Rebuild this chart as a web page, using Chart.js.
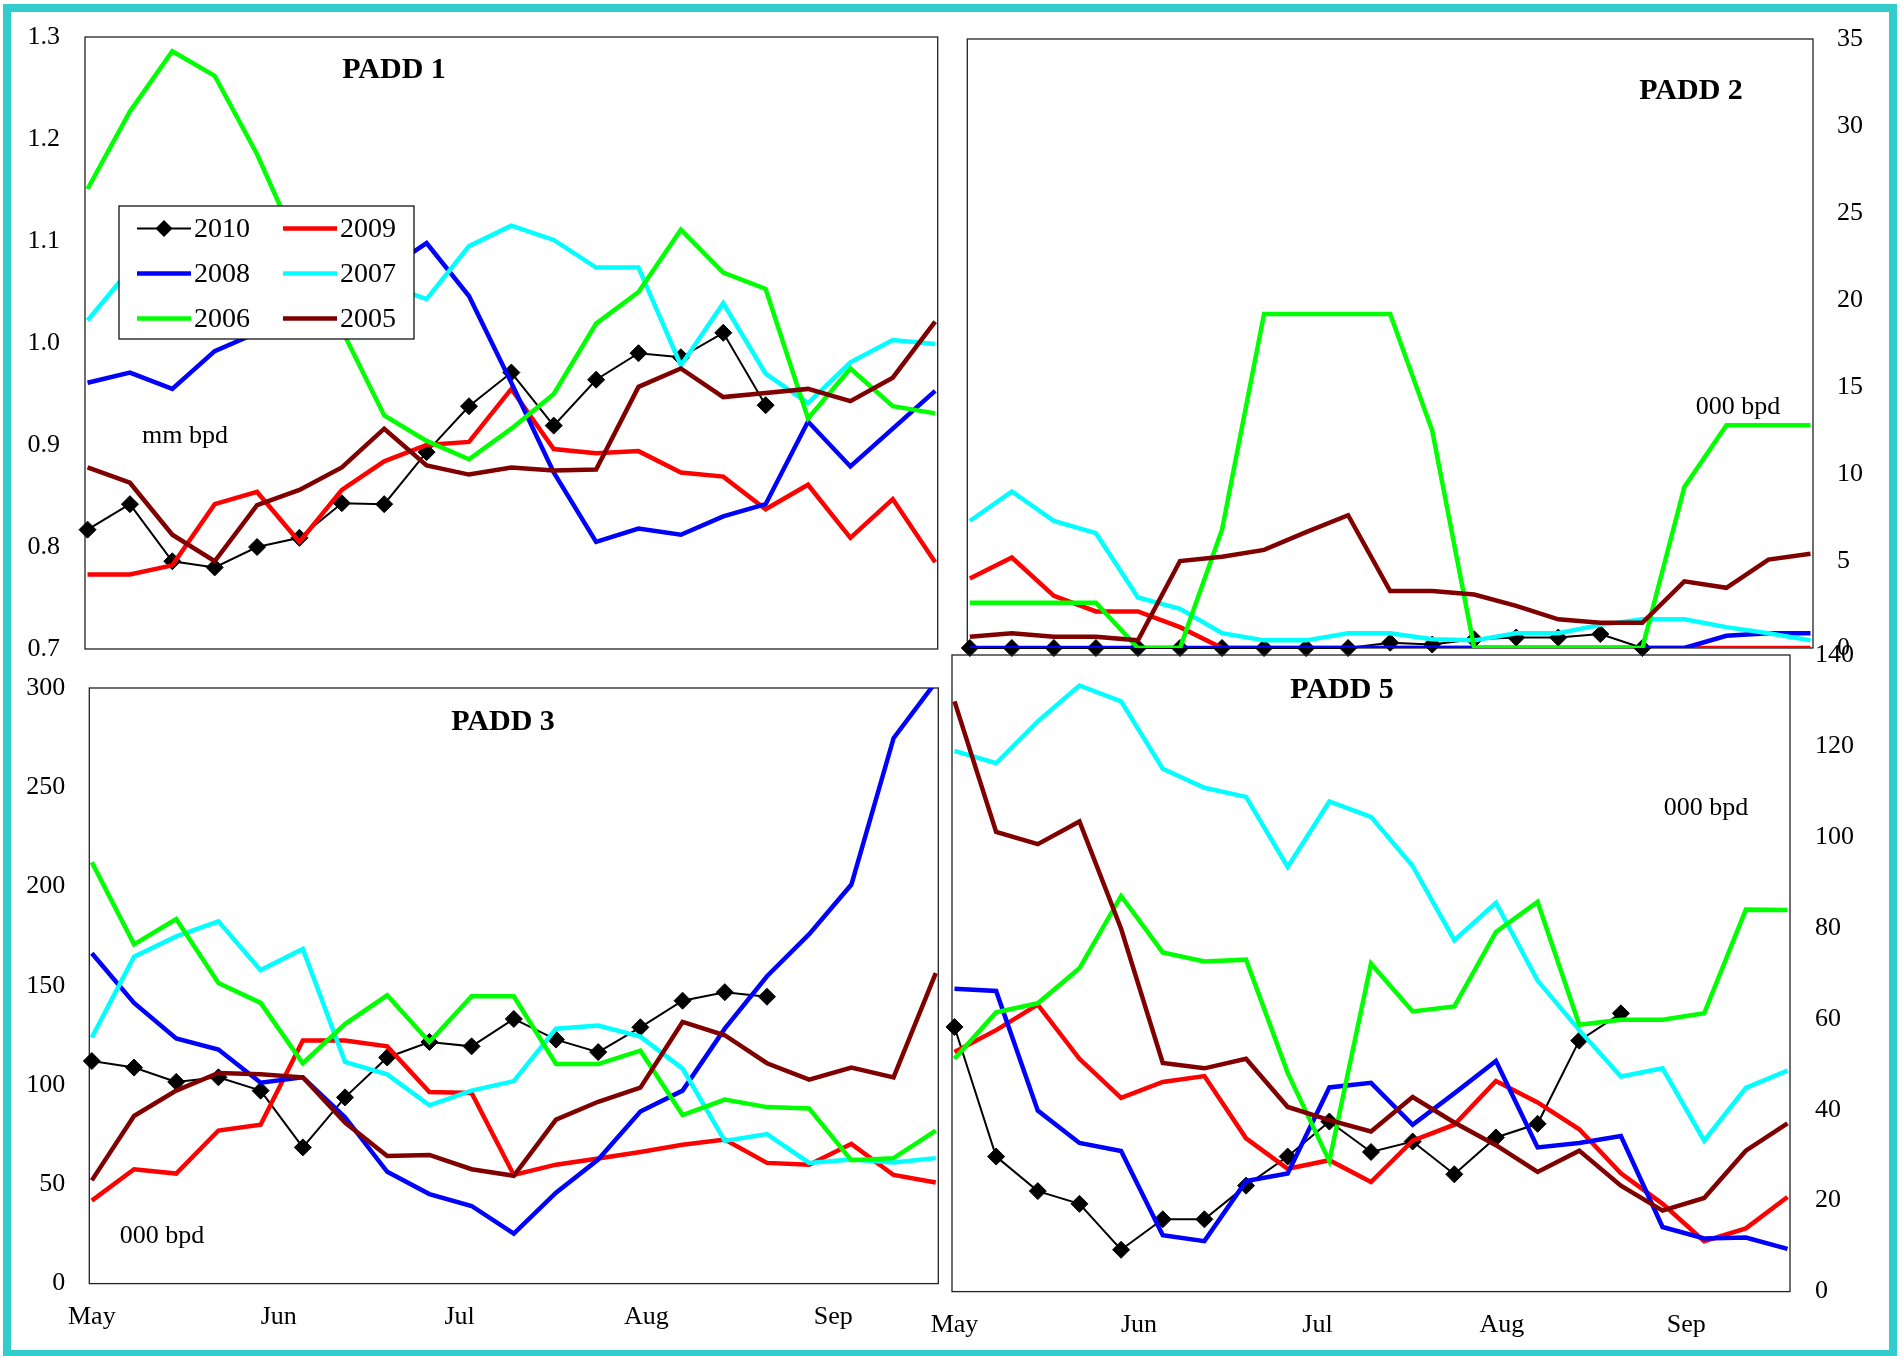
<!DOCTYPE html>
<html><head><meta charset="utf-8">
<script src="https://cdn.jsdelivr.net/npm/chart.js@4.4.1/dist/chart.umd.min.js"></script>
<style>
html,body{margin:0;padding:0;background:#fff;}
body{width:1902px;height:1356px;position:relative;overflow:hidden;}
#frame{position:absolute;left:3px;top:4px;width:1878px;height:1338px;border:8px solid #33CCCC;z-index:10;pointer-events:none;}
canvas{position:absolute;}
</style></head>
<body>
<div id="frame"></div>
<canvas id="c1"></canvas>
<canvas id="c2"></canvas>
<canvas id="c3"></canvas>
<canvas id="c5"></canvas>
<script>
// ---------- data ----------
const weekIndex = [0,1,2,3,4,5,6,7,8,9,10,11,12,13,14,15,16,17,18,19,20];
const monthLabels = ['May','Jun','Jul','Aug','Sep'];
const monthStartDay = [0,31,61,92,123];
const seriesYears = ['2010','2009','2008','2007','2006','2005'];

const padd1YTicks = [0.7,0.8,0.9,1.0,1.1,1.2,1.3];
const padd2YTicks = [0,5,10,15,20,25,30,35];
const padd3YTicks = [0,50,100,150,200,250,300];
const padd5YTicks = [0,20,40,60,80,100,120,140];

const padd1_2010 = [0.817,0.842,0.786,0.780,0.800,0.809,0.843,0.842,0.893,0.938,0.971,0.919,0.964,0.990,0.986,1.010,0.939];
const padd1_2009 = [0.773,0.773,0.782,0.842,0.854,0.805,0.856,0.884,0.900,0.903,0.955,0.896,0.892,0.894,0.873,0.869,0.837,0.861,0.809,0.847,0.785];
const padd1_2008 = [0.961,0.971,0.955,0.992,1.010,1.030,1.050,1.070,1.098,1.046,0.961,0.873,0.805,0.818,0.812,0.830,0.842,0.923,0.879,0.916,0.953];
const padd1_2007 = [1.022,1.072,1.085,1.090,1.085,1.075,1.065,1.058,1.043,1.095,1.115,1.101,1.074,1.074,0.978,1.039,0.970,0.941,0.981,1.003,0.999];
const padd1_2006 = [1.151,1.227,1.286,1.262,1.185,1.092,1.013,0.929,0.904,0.886,0.916,0.950,1.019,1.050,1.111,1.069,1.053,0.926,0.975,0.938,0.931];
const padd1_2005 = [0.878,0.863,0.812,0.786,0.841,0.856,0.878,0.916,0.880,0.871,0.878,0.875,0.876,0.957,0.975,0.947,0.951,0.955,0.943,0.966,1.021];

const padd2_2010 = [0,0,0,0,0,0,0,0,0,0,0.3,0.2,0.5,0.6,0.6,0.8,0];
const padd2_2009 = [4.0,5.2,3.0,2.1,2.1,1.2,0,0,0,0,0,0,0,0,0,0,0,0,0,0,0];
const padd2_2008 = [0,0,0,0,0,0,0,0,0,0,0,0,0,0,0,0,0,0,0.7,0.85,0.85];
const padd2_2007 = [7.3,9.0,7.3,6.6,2.9,2.25,0.85,0.44,0.44,0.85,0.85,0.5,0.44,0.85,0.85,1.33,1.65,1.65,1.2,0.85,0.44];
const padd2_2006 = [2.6,2.6,2.6,2.6,0,0,6.8,19.2,19.2,19.2,19.2,12.5,0,0,0,0,0,9.25,12.8,12.8,12.8];
const padd2_2005 = [0.65,0.85,0.65,0.65,0.44,5.0,5.25,5.64,6.66,7.63,3.27,3.27,3.07,2.42,1.65,1.45,1.45,3.83,3.46,5.08,5.42];

const padd3_2010 = [112.1,108.8,101.6,103.9,97.2,68.6,93.8,113.9,121.7,119.5,133.3,122.9,116.6,129.1,142.5,146.8,144.5];
const padd3_2009 = [41.8,57.6,55.4,77.1,80.0,122.4,122.4,119.5,96.5,96.0,54.7,59.9,63.0,66.3,69.9,72.6,60.8,59.9,70.4,54.7,50.9];
const padd3_2008 = [166.4,141.4,123.5,117.9,101.2,103.9,83.8,56.3,45.1,39.1,25.2,45.8,62.5,86.7,97.2,128.4,154.8,176.0,201.0,274.7,303.0];
const padd3_2007 = [124.0,164.6,174.9,182.5,157.9,168.6,111.7,105.4,89.8,97.2,102.0,128.4,130.0,124.4,108.3,71.9,75.3,60.8,62.5,61.0,63.2];
const padd3_2006 = [212.2,170.9,183.6,151.4,141.4,111.0,130.7,145.2,121.7,144.7,144.7,110.6,110.6,117.3,84.9,92.7,88.9,88.2,62.1,63.2,77.1];
const padd3_2005 = [52.0,84.4,97.2,106.1,105.4,103.9,81.1,64.3,64.8,57.6,54.3,82.6,91.6,98.7,131.8,125.1,111.0,102.7,108.8,103.9,156.4];

const padd5_2010 = [58.2,29.7,22.1,19.3,9.2,15.9,15.9,23.3,29.7,37.4,30.7,33.0,25.8,33.9,36.9,55.2,61.2];
const padd5_2009 = [52.7,57.5,63.1,51.2,42.6,46.1,47.4,33.7,27.0,28.9,24.1,33.2,36.7,46.3,41.6,35.7,26.0,19.3,11.1,13.9,20.8];
const padd5_2008 = [66.6,66.1,39.8,32.7,30.9,12.4,11.1,24.3,26.0,44.9,45.9,36.7,43.6,50.7,31.7,32.7,34.2,14.2,11.7,11.9,9.4];
const padd5_2007 = [118.9,116.2,125.4,133.3,129.8,115.0,110.8,108.8,93.4,107.8,104.4,93.6,77.3,85.5,68.4,57.5,47.3,49.1,33.2,44.8,48.6];
const padd5_2006 = [51.2,61.4,63.4,71.1,87.0,74.6,72.6,73.0,48.1,28.7,72.1,61.6,62.7,79.1,85.7,58.7,59.8,59.8,61.2,84.0,83.9];
const padd5_2005 = [129.8,101.1,98.4,103.4,79.8,50.3,49.1,51.2,40.6,37.7,35.2,42.8,37.2,32.2,26.3,31.0,23.3,17.8,20.6,31.0,37.0];

// ---------- styles ----------
const COLORS = ['#000000','#FF0000','#0000FF','#00FFFF','#00FF00','#800000'];
const FONT = '"Liberation Serif", "Times New Roman", serif';

function makeDatasets(arrs){
  return seriesYears.map((yr,k)=>{
    const ds = {
      label: yr,
      data: arrs[k].map((v,i)=>({x: weekIndex[i], y: v})),
      borderColor: COLORS[k],
      backgroundColor: COLORS[k],
      borderWidth: k===0 ? 2 : 4.5,
      pointRadius: k===0 ? 8.5 : 0,
      pointHoverRadius: k===0 ? 8.5 : 0,
      pointStyle: 'rectRot',
      pointBorderWidth: 1,
      tension: 0,
      fill: false,
      order: seriesYears.length - k
    };
    if (k===0) ds.clip = false;
    return ds;
  });
}

const annotPlugin = {
  id: 'annot',
  beforeDatasetsDraw(chart){
    const o = chart.options.plugins.annot;
    const ctx = chart.ctx, a = chart.chartArea;
    ctx.save();
    ctx.strokeStyle = '#222';
    ctx.lineWidth = 1.3;
    ctx.strokeRect(a.left, a.top, a.right-a.left, a.bottom-a.top);
    ctx.fillStyle = '#000';
    ctx.textAlign = 'center';
    ctx.textBaseline = 'middle';
    (o.texts||[]).forEach(t=>{
      ctx.font = (t.bold?'bold ':'') + t.size + 'px ' + FONT;
      ctx.fillText(t.text, t.x - o.ox, t.y - o.oy);
    });
    ctx.restore();
  },
  afterDatasetsDraw(chart){
    const o = chart.options.plugins.annot;
    if (!o.legend) return;
    const L = o.legend, ctx = chart.ctx;
    const bx = L.x - o.ox, by = L.y - o.oy;
    ctx.save();
    ctx.fillStyle = '#fff';
    ctx.fillRect(bx, by, L.w, L.h);
    ctx.strokeStyle = '#000';
    ctx.lineWidth = 1.2;
    ctx.strokeRect(bx, by, L.w, L.h);
    ctx.font = '28px ' + FONT;
    ctx.textBaseline = 'middle';
    ctx.textAlign = 'left';
    chart.data.datasets.forEach((ds,k)=>{
      const col = k%2, row = Math.floor(k/2);
      const lx = bx + L.colX[col], ly = by + L.rowY[row];
      ctx.strokeStyle = ds.borderColor;
      ctx.lineWidth = ds.borderWidth;
      ctx.beginPath(); ctx.moveTo(lx, ly); ctx.lineTo(lx + L.lineLen, ly); ctx.stroke();
      if (ds.pointRadius > 0){
        const cx = lx + L.lineLen/2, r = ds.pointRadius;
        ctx.fillStyle = ds.backgroundColor;
        ctx.beginPath();
        ctx.moveTo(cx-r, ly); ctx.lineTo(cx, ly-r); ctx.lineTo(cx+r, ly); ctx.lineTo(cx, ly+r);
        ctx.closePath(); ctx.fill();
      }
      ctx.fillStyle = '#000';
      ctx.fillText(ds.label, lx + L.lineLen + 3, ly + 1);
    });
    ctx.restore();
  }
};

function makePanel(id, p){
  const cv = document.getElementById(id);
  cv.width = p.W; cv.height = p.H;
  cv.style.left = p.left + 'px'; cv.style.top = p.top + 'px';
  cv.style.width = p.W + 'px'; cv.style.height = p.H + 'px';
  new Chart(cv.getContext('2d'), {
    type: 'line',
    data: { datasets: makeDatasets(p.series) },
    plugins: [annotPlugin],
    options: {
      responsive: false,
      animation: false,
      devicePixelRatio: 1,
      events: [],
      layout: { padding: p.pad },
      plugins: {
        legend: { display: false },
        tooltip: { enabled: false },
        annot: { ox: p.left, oy: p.top, texts: p.texts, legend: p.legend }
      },
      scales: {
        x: {
          type: 'linear', min: -0.06, max: 20.06,
          display: p.showMonths,
          grid: { display: false, drawTicks: false },
          border: { display: false },
          afterBuildTicks: s => { s.ticks = monthStartDay.map(d => ({ value: d/7 })); },
          ticks: { autoSkip: false, maxRotation: 0, padding: 18, color: '#000',
                   font: { family: FONT, size: 26 },
                   callback: (v, i) => monthLabels[i] },
          afterFit: s => { s.height = p.xH || 0; }
        },
        y: {
          type: 'linear', position: p.yPos, min: p.yTicks[0], max: p.yTicks[p.yTicks.length-1],
          grid: { display: false, drawTicks: false },
          border: { display: false },
          afterBuildTicks: s => { s.ticks = p.yTicks.map(v => ({ value: v })); },
          ticks: { padding: p.yPad, color: '#000', font: { family: FONT, size: 26 },
                   callback: v => p.fmt(v) },
          afterFit: s => { s.width = p.yW; }
        }
      }
    }
  });
}

makePanel('c1', {
  left: 0, top: -10, W: 950, H: 704,
  pad: { left: 0, top: 47, right: 12.3, bottom: 45 },
  yPos: 'left', yW: 85, yPad: 25, yTicks: padd1YTicks, fmt: v => v.toFixed(1),
  showMonths: false,
  series: [padd1_2010, padd1_2009, padd1_2008, padd1_2007, padd1_2006, padd1_2005],
  texts: [
    { text: 'PADD 1', x: 394, y: 70, size: 30, bold: true },
    { text: 'mm bpd', x: 185, y: 436, size: 26 }
  ],
  legend: { x: 119, y: 206, w: 295, h: 133, colX: [18, 164], rowY: [22.5, 67.5, 112.5], lineLen: 54 }
});

makePanel('c2', {
  left: 950, top: -10, W: 952, H: 704,
  pad: { left: 17.3, top: 49, right: 19, bottom: 46 },
  yPos: 'right', yW: 70, yPad: 24, yTicks: padd2YTicks, fmt: v => String(v),
  showMonths: false,
  series: [padd2_2010, padd2_2009, padd2_2008, padd2_2007, padd2_2006, padd2_2005],
  texts: [
    { text: 'PADD 2', x: 1691, y: 91, size: 30, bold: true },
    { text: '000 bpd', x: 1738, y: 407, size: 26 }
  ]
});

makePanel('c3', {
  left: 0, top: 642.5, W: 950, H: 713.5,
  pad: { left: 0, top: 45, right: 11.7, bottom: 17.4 },
  yPos: 'left', yW: 89.3, yPad: 24, yTicks: padd3YTicks, fmt: v => String(v),
  showMonths: true, xH: 55,
  series: [padd3_2010, padd3_2009, padd3_2008, padd3_2007, padd3_2006, padd3_2005],
  texts: [
    { text: 'PADD 3', x: 503, y: 722, size: 30, bold: true },
    { text: '000 bpd', x: 162, y: 1236, size: 26 }
  ]
});

makePanel('c5', {
  left: 900, top: 610, W: 1002, H: 746,
  pad: { left: 52, top: 45, right: 42, bottom: 14.4 },
  yPos: 'right', yW: 70, yPad: 25, yTicks: padd5YTicks, fmt: v => String(v),
  showMonths: true, xH: 50,
  series: [padd5_2010, padd5_2009, padd5_2008, padd5_2007, padd5_2006, padd5_2005],
  texts: [
    { text: 'PADD 5', x: 1342, y: 690, size: 30, bold: true },
    { text: '000 bpd', x: 1706, y: 808, size: 26 }
  ]
});
</script>
</body></html>
